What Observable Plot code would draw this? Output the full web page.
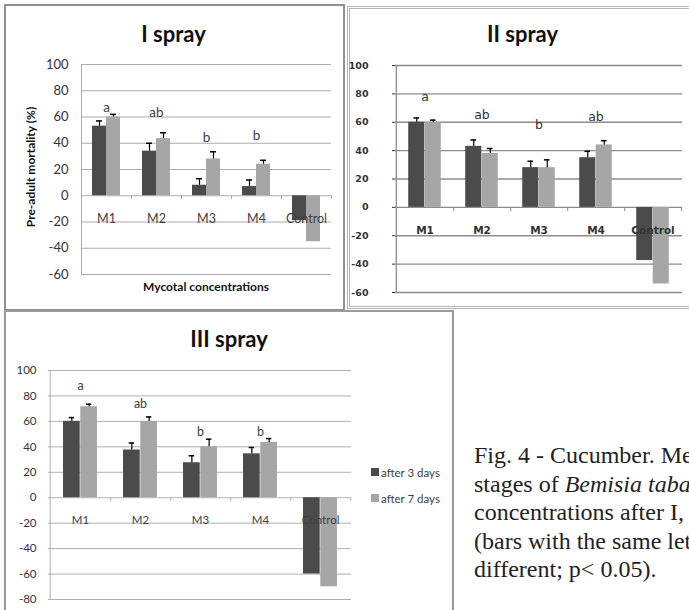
<!DOCTYPE html>
<html><head><meta charset="utf-8">
<script src="https://cdn.jsdelivr.net/npm/d3@7"></script>
<script src="https://cdn.jsdelivr.net/npm/@observablehq/plot@0.6"></script>
<style>
body{margin:0;background:#fff;}
#page{position:relative;width:689px;height:610px;overflow:hidden;background:#fff;}
.box{position:absolute;box-sizing:border-box;}
.abs{position:absolute;white-space:nowrap;line-height:1;}
.chart{position:absolute;}
</style></head><body><div id="page"></div>
<script>
// ---------- data ----------
const categories = ["M1", "M2", "M3", "M4", "Control"];
const seriesNames = ["after 3 days", "after 7 days"];
const yTicksA = [-60, -40, -20, 0, 20, 40, 60, 80, 100];
const yTicksB = [-80, -60, -40, -20, 0, 20, 40, 60, 80, 100];

// I spray
const spray1After3 = [53, 34, 8, 7, -19];
const spray1After7 = [60, 43.5, 28, 24, -35];
const spray1Err3 = [4, 6, 5, 5, null];
const spray1Err7 = [2, 4.5, 5.5, 3, null];
const spray1Letters = ["a", "ab", "b", "b", ""];
const spray1LetterY = [67, 63, 44, 46, null];

// II spray
const spray2After3 = [60, 43, 28, 35, -37.5];
const spray2After7 = [60, 38, 28, 44, -54];
const spray2Err3 = [3, 4.5, 4.5, 4.5, null];
const spray2Err7 = [1.5, 3.5, 5.5, 3, null];
const spray2Letters = ["a", "ab", "b", "ab", ""];
const spray2LetterY = [78, 65, 58, 64, null];

// III spray
const spray3After3 = [60, 37.5, 27.5, 34.5, -60];
const spray3After7 = [71.5, 60, 40, 43.5, -70];
const spray3Err3 = [3, 5.5, 5.5, 5, null];
const spray3Err7 = [2, 3.5, 6, 3, null];
const spray3Letters = ["a", "ab", "b", "b", ""];
const spray3LetterY = [88, 74, 52, 52, null];

const titles = ["I spray", "II spray", "III spray"];
const yTitle = "Pre-adult mortality (%)";
const xTitle = "Mycotal concentrations";
const captionLines = [
  "Fig. 4 - Cucumber. Mean pre-adult mortality of immature",
  "stages of <i>Bemisia tabaci</i> treated with different Mycotal",
  "concentrations after I, II and III spray",
  "(bars with the same letter are not significantly",
  "different; p&lt; 0.05)."
];

const DARK = "#4b4b4b", LIGHT = "#a6a6a6";

// ---------- helpers ----------
const page = document.getElementById("page");
function put(el, css) { Object.assign(el.style, css); page.appendChild(el); return el; }
function box(css) { const d = document.createElement("div"); d.className = "box"; return put(d, css); }
function label(text, cx, cy, css = {}) {
  const d = document.createElement("div");
  d.className = "abs"; d.textContent = text;
  return put(d, Object.assign({left: cx + "px", top: cy + "px", transform: "translate(-50%,-50%)"}, css));
}

function makeChart(o) {
  const rows = categories.map((c, i) => ({
    cat: c, v3: o.a3[i], v7: o.a7[i],
    t3: o.e3[i] == null ? null : o.a3[i] + o.e3[i],
    t7: o.e7[i] == null ? null : o.a7[i] + o.e7[i],
    letter: o.letters[i], ly: o.letterY[i]
  }));
  const errRows3 = rows.filter(d => d.t3 != null);
  const errRows7 = rows.filter(d => d.t7 != null);
  const bw = (o.width - o.ml - o.mr) / categories.length;
  const w = bw * o.barFrac;       // bar width
  const c = 3;                    // half cap width
  const ymin = o.yTicks[0], ymax = o.yTicks[o.yTicks.length - 1];
  const chart = Plot.plot({
    width: o.width, height: o.height,
    marginLeft: o.ml, marginRight: o.mr, marginTop: o.mt, marginBottom: o.mb,
    style: {fontFamily: o.tickFont, fontSize: o.tickSize + "px", color: o.textColor, background: "transparent", fontWeight: o.tickWeight},
    x: {type: "band", domain: categories, paddingInner: 0, paddingOuter: 0, axis: null},
    y: {domain: [ymin, ymax], ticks: o.yTicks, tickSize: o.yTickLen, tickPadding: o.tickPad, label: null, tickFormat: d => String(d)},
    marks: [
      Plot.ruleY(o.yTicks, {stroke: o.gridColor, strokeWidth: o.gridWidth}),
      Plot.ruleX([categories[0]], {dx: -bw / 2, y1: ymin, y2: ymax, stroke: o.gridColor, strokeWidth: o.gridWidth}),
      Plot.ruleX(categories, {x: d => d, dx: bw / 2, y1: 0, y2: -o.tickUnits, stroke: o.gridColor}),
      Plot.barY(rows, {x: "cat", y1: 0, y2: "v3", fill: DARK, insetLeft: bw / 2 - w, insetRight: bw / 2}),
      Plot.barY(rows, {x: "cat", y1: 0, y2: "v7", fill: LIGHT, insetLeft: bw / 2, insetRight: bw / 2 - w}),
      Plot.ruleX(errRows3, {x: "cat", y1: "v3", y2: "t3", dx: -w / 2, stroke: "#000", strokeWidth: 1.2}),
      Plot.ruleX(errRows7, {x: "cat", y1: "v7", y2: "t7", dx: w / 2, stroke: "#000", strokeWidth: 1.2}),
      Plot.tickY(errRows3, {x: "cat", y: "t3", insetLeft: bw / 2 - w / 2 - c, insetRight: bw / 2 + w / 2 - c, stroke: "#000", strokeWidth: 1.5}),
      Plot.tickY(errRows7, {x: "cat", y: "t7", insetLeft: bw / 2 + w / 2 - c, insetRight: bw / 2 - w / 2 - c, stroke: "#000", strokeWidth: 1.5}),
      Plot.text(categories, {x: d => d, y: 0, dy: o.catDy, text: d => d, fontSize: o.catSize, fill: o.catColor, fontFamily: o.catFont, fontWeight: o.catWeight}),
      Plot.text(rows.filter(d => d.ly != null), {x: "cat", y: "ly", text: "letter", fontSize: o.letterSize, fill: o.catColor, fontFamily: o.catFont, fontWeight: "normal"})
    ]
  });
  chart.classList.add("chart");
  Object.assign(chart.style, {left: o.left + "px", top: o.top + "px"});
  page.appendChild(chart);
}

// ---------- panel frames ----------
box({left: "4px", top: "4px", width: "341px", height: "307px", border: "2px solid #8f8f8f"});
box({left: "347px", top: "6px", width: "350px", height: "303px", border: "3px double #b4b4b4"});
box({left: "4px", top: "310px", width: "450px", height: "320px", border: "2px solid #9a9a9a"});

// ---------- panel 1 ----------
makeChart({
  left: 5, top: 5, width: 338, height: 300, ml: 76, mr: 12, mt: 59, mb: 31,
  a3: spray1After3, a7: spray1After7, e3: spray1Err3, e7: spray1Err7,
  letters: spray1Letters, letterY: spray1LetterY, yTicks: yTicksA,
  barFrac: 0.28, tickFont: "Lato", tickSize: 13, tickWeight: "normal", textColor: "#333", tickPad: 13, yTickLen: 0,
  gridColor: "#ababab", gridWidth: 1, tickUnits: 3,
  catDy: 23, catSize: 12.5, catColor: "#404040", catFont: "Lato", catWeight: "normal", letterSize: 13.5
});
label(titles[0], 173.5, 33, {font: "bold 22px Lato", color: "#111"});
label(yTitle, 30, 167, {font: "bold 12px Lato", color: "#111", transform: "translate(-50%,-50%) rotate(-90deg)"});
label(xTitle, 206, 286, {font: "bold 12px Lato", color: "#111"});

// ---------- panel 2 ----------
makeChart({
  left: 349, top: 9, width: 340, height: 297, ml: 46, mr: 7, mt: 56, mb: 14,
  a3: spray2After3, a7: spray2After7, e3: spray2Err3, e7: spray2Err7,
  letters: spray2Letters, letterY: spray2LetterY, yTicks: yTicksA,
  barFrac: 0.287, tickFont: "DejaVu Sans", tickSize: 9.5, tickWeight: "bold", textColor: "#333", tickPad: 24, yTickLen: 3,
  gridColor: "#8c8c8c", gridWidth: 1.3, tickUnits: 3,
  catDy: 23, catSize: 10.5, catColor: "#333", catFont: "DejaVu Sans", catWeight: "bold", letterSize: 12.5
});
label(titles[1], 522.5, 33, {font: "bold 22px Lato", color: "#111"});

// ---------- panel 3 ----------
makeChart({
  left: 6, top: 313, width: 445, height: 297, ml: 42, mr: 100, mt: 57, mb: 11,
  a3: spray3After3, a7: spray3After7, e3: spray3Err3, e7: spray3Err7,
  letters: spray3Letters, letterY: spray3LetterY, yTicks: yTicksB,
  barFrac: 0.285, tickFont: "Lato", tickSize: 11.5, tickWeight: "normal", textColor: "#333", tickPad: 12, yTickLen: 0,
  gridColor: "#b0b0b0", gridWidth: 1, tickUnits: 3,
  catDy: 23, catSize: 11.5, catColor: "#404040", catFont: "Lato", catWeight: "normal", letterSize: 12.5
});
label(titles[2], 229, 338, {font: "bold 22px Lato", color: "#111"});

// legend
[DARK, LIGHT].forEach((col, i) => {
  const cy = 472 + i * 25.5;
  const sw = document.createElement("div");
  put(sw, {position: "absolute", left: "371px", top: (cy - 4) + "px", width: "8px", height: "8px", background: col});
  const t = document.createElement("div");
  t.className = "abs"; t.textContent = seriesNames[i];
  put(t, {left: "381px", top: cy + "px", transform: "translateY(-50%)", font: "11.5px Lato", color: "#404040"});
});

// ---------- caption (clipped at the page edge, as in the source figure) ----------
const cap = document.createElement("div");
cap.innerHTML = captionLines.map(s => "<div>" + s + "</div>").join("");
put(cap, {position: "absolute", left: "474px", top: "441px", font: "24px 'Liberation Serif'", lineHeight: "28.5px", color: "#222", whiteSpace: "nowrap"});
</script>
</body></html>
